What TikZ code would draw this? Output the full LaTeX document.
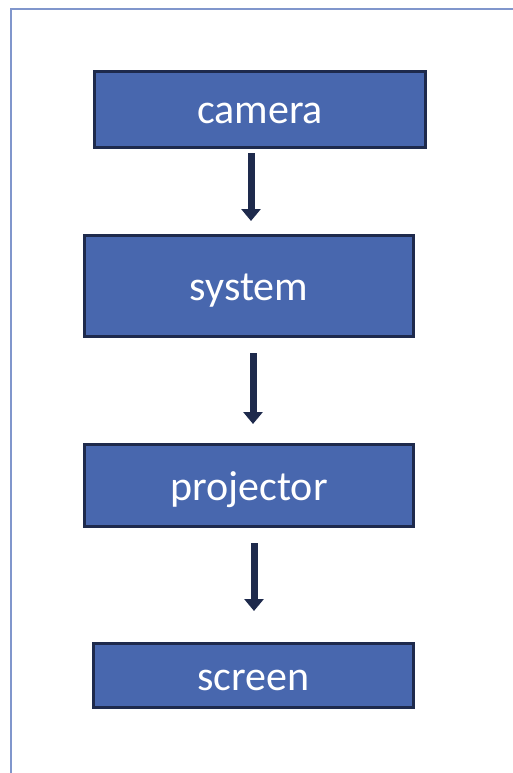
\documentclass[tikz,border=0pt]{standalone}
\usepackage{fontspec}
\setmainfont{Carlito}
\usetikzlibrary{arrows.meta}
\definecolor{blkfill}{RGB}{72,103,174}
\definecolor{blkline}{RGB}{30,42,76}
\definecolor{frameblue}{RGB}{128,150,204}
\tikzset{blk/.style={rectangle,draw=blkline,fill=blkfill,line width=3pt,text=white,
    inner sep=0pt,text height=29pt,text depth=0pt,font=\fontsize{42}{44}\selectfont},
  arrow/.style={-{Triangle[width=19pt,length=12pt]},line width=7pt,draw=blkline}}

\begin{document}
\begin{tikzpicture}[x=1pt,y=-1pt]
  \path[use as bounding box] (0,0) rectangle (512,773);
  \draw[frameblue,line width=2.5pt] (11,780)--(11,9)--(520,9);
  \foreach \n/\x/\y/\w/\h in {camera/260/109.5/331/76,system/249/286/329/101,
    projector/249/485.5/329/82,screen/253.5/675.5/320/64}{
    \node[blk,minimum width=\w pt,minimum height=\h pt] (\n) at (\x,\y) {\n};
  }
  \foreach \a/\b/\dxa/\dxb/\ya/\yb in {camera/system/-9/2/-4/13,
    system/projector/4/4/-15/19,projector/screen/5/0.5/-15/31}{
    \draw[arrow] ([xshift=\dxa pt,yshift=\ya pt]\a.south)--([xshift=\dxb pt,yshift=\yb pt]\b.north);
  }
\end{tikzpicture}
\end{document}
